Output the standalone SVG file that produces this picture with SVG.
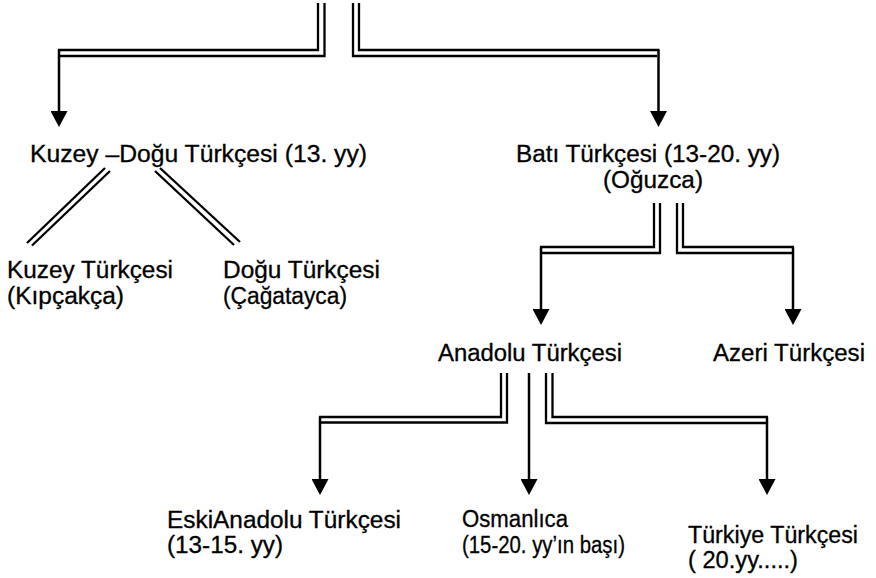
<svg xmlns="http://www.w3.org/2000/svg" width="876" height="578" viewBox="0 0 876 578">
<style>
  .t { font-family: "Liberation Sans", Arial, sans-serif; font-size: 23px; fill: #000; stroke: #000; stroke-width: 0.3; }
  .d { fill: none; stroke: #000; stroke-width: 2.3; stroke-linejoin: miter; }
  .s { fill: none; stroke: #000; stroke-width: 2.5; }
</style>
<defs>
  <marker id="ah" markerUnits="userSpaceOnUse" markerWidth="17" markerHeight="17" refX="6" refY="8.5" orient="auto" viewBox="0 0 16 17">
    <path d="M0,0 L16,8.5 L0,17 z" fill="#000"/>
  </marker>
</defs>
<rect width="876" height="578" fill="#fff"/>
<g id="connectors">
  <polyline class="d" points="318,3 318,50 58,50"/>
  <polyline class="d" points="324.5,3 324.5,56 60,56"/>
  <line class="s" x1="59" y1="50" x2="59" y2="117" marker-end="url(#ah)"/>
  <polyline class="d" points="353,3 353,56 657,56"/>
  <polyline class="d" points="359,3 359,50 659.5,50"/>
  <line class="s" x1="658.5" y1="50" x2="658.5" y2="117" marker-end="url(#ah)"/>
  <line class="d" x1="27" y1="243" x2="105" y2="168"/>
  <line class="d" x1="32" y1="245.5" x2="110" y2="171"/>
  <line class="d" x1="155" y1="171" x2="234" y2="245"/>
  <line class="d" x1="160" y1="168" x2="240" y2="242"/>
  <polyline class="d" points="654,203 654,247 540,247"/>
  <polyline class="d" points="660,203 660,253 542,253"/>
  <line class="s" x1="541" y1="247" x2="541" y2="315" marker-end="url(#ah)"/>
  <polyline class="d" points="677,203 677,253 792,253"/>
  <polyline class="d" points="683,203 683,247 794,247"/>
  <line class="s" x1="793" y1="247" x2="793" y2="315" marker-end="url(#ah)"/>
  <polyline class="d" points="501,373 501,417 319,417"/>
  <polyline class="d" points="507,373 507,422.5 321,422.5"/>
  <line class="s" x1="320" y1="417" x2="320" y2="485" marker-end="url(#ah)"/>
  <line class="s" x1="529" y1="373" x2="529" y2="485" marker-end="url(#ah)"/>
  <polyline class="d" points="546,373 546,423 766,423"/>
  <polyline class="d" points="552.5,373 552.5,417 768,417"/>
  <line class="s" x1="767" y1="417" x2="767" y2="485" marker-end="url(#ah)"/>
</g>
<g id="kuzey-dogu">
  <text class="t" x="30" y="162" textLength="337" lengthAdjust="spacingAndGlyphs">Kuzey –Doğu Türkçesi (13. yy)</text>
</g>
<g id="bati">
  <text class="t" x="516" y="162" textLength="264" lengthAdjust="spacingAndGlyphs">Batı Türkçesi (13-20. yy)</text>
  <text class="t" x="603" y="188" textLength="100" lengthAdjust="spacingAndGlyphs">(Oğuzca)</text>
</g>
<g id="kuzey">
  <text class="t" x="7" y="278" textLength="166" lengthAdjust="spacingAndGlyphs">Kuzey Türkçesi</text>
  <text class="t" x="7" y="304" textLength="117" lengthAdjust="spacingAndGlyphs">(Kıpçakça)</text>
</g>
<g id="dogu">
  <text class="t" x="223" y="278" textLength="157" lengthAdjust="spacingAndGlyphs">Doğu Türkçesi</text>
  <text class="t" x="223" y="304" textLength="124" lengthAdjust="spacingAndGlyphs">(Çağatayca)</text>
</g>
<g id="anadolu">
  <text class="t" x="438" y="361" textLength="184" lengthAdjust="spacingAndGlyphs">Anadolu Türkçesi</text>
</g>
<g id="azeri">
  <text class="t" x="713" y="361" textLength="152" lengthAdjust="spacingAndGlyphs">Azeri Türkçesi</text>
</g>
<g id="eski-anadolu">
  <text class="t" x="167" y="528" textLength="234" lengthAdjust="spacingAndGlyphs">EskiAnadolu Türkçesi</text>
  <text class="t" x="167" y="553" textLength="116" lengthAdjust="spacingAndGlyphs">(13-15. yy)</text>
</g>
<g id="osmanlica">
  <text class="t" x="462" y="527" textLength="106" lengthAdjust="spacingAndGlyphs">Osmanlıca</text>
  <text class="t" x="462" y="553" textLength="163" lengthAdjust="spacingAndGlyphs">(15-20. yy’ın başı)</text>
</g>
<g id="turkiye">
  <text class="t" x="688" y="543" textLength="170" lengthAdjust="spacingAndGlyphs">Türkiye Türkçesi</text>
  <text class="t" x="688" y="568" textLength="110" lengthAdjust="spacingAndGlyphs">( 20.yy.....)</text>
</g>
</svg>
